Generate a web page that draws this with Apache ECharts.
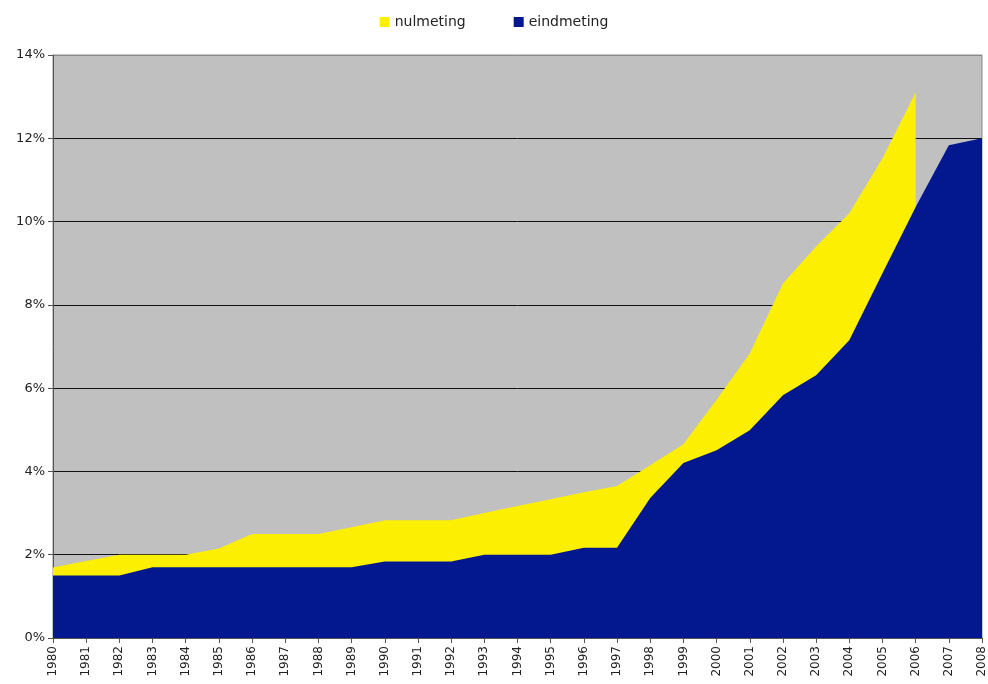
<!DOCTYPE html>
<html>
<head>
<meta charset="utf-8">
<script src="https://cdn.jsdelivr.net/npm/echarts@6/dist/echarts.min.js"></script>
<style>
  html, body { margin: 0; padding: 0; background: #fff; }
  #chart { width: 988px; height: 684px; }
</style>
</head>
<body>
<div id="chart"></div>
<script>
// jaren
var years = ["1980","1981","1982","1983","1984","1985","1986","1987","1988","1989",
  "1990","1991","1992","1993","1994","1995","1996","1997","1998","1999",
  "2000","2001","2002","2003","2004","2005","2006","2007","2008"];

// nulmeting (%), geen waarden na 2006
var nulmeting = [1.69, 1.85, 2.0, 2.0, 2.0, 2.15, 2.5, 2.5, 2.5, 2.66,
  2.83, 2.83, 2.83, 3.0, 3.17, 3.33, 3.5, 3.65, 4.15, 4.65,
  5.72, 6.83, 8.51, 9.4, 10.2, 11.52, 13.1, null, null];

// eindmeting (%)
var eindmeting = [1.5, 1.5, 1.5, 1.7, 1.7, 1.7, 1.7, 1.7, 1.7, 1.7,
  1.84, 1.84, 1.84, 2.0, 2.0, 2.0, 2.17, 2.17, 3.36, 4.2,
  4.51, 4.99, 5.83, 6.31, 7.15, 8.76, 10.35, 11.83, 12.0];

var yTicks = [0, 2, 4, 6, 8, 10, 12, 14];

var myChart = echarts.init(document.getElementById("chart"));

// zwarte rasterlijnen, bovenste lijn valt samen met de grijze rand
var gridColors = yTicks.map(function (t, i) {
  return i === yTicks.length - 1 ? "#8c8c8c" : "#111111";
});

var option = {
  animation: false,
  backgroundColor: "#ffffff",
  textStyle: { fontFamily: "DejaVu Sans" },
  legend: {
    top: 10,
    left: "center",
    icon: "rect",
    itemWidth: 10,
    itemHeight: 10,
    itemGap: 48,
    textStyle: { fontSize: 14, color: "#222", fontFamily: "DejaVu Sans" },
    data: ["nulmeting", "eindmeting"]
  },
  grid: {
    left: 53,
    right: 6,
    top: 55,
    bottom: 46,
    show: true,
    backgroundColor: "#c0c0c0",
    borderWidth: 1,
    borderColor: "#8c8c8c"
  },
  xAxis: {
    type: "category",
    data: years,
    boundaryGap: false,
    axisLine: { lineStyle: { color: "#555", width: 1 } },
    axisTick: { show: true, interval: 0, length: 5, lineStyle: { color: "#555" } },
    axisLabel: {
      interval: 0,
      rotate: 90,
      fontSize: 12,
      color: "#222",
      margin: 8
    },
    splitLine: { show: false }
  },
  yAxis: {
    type: "value",
    min: yTicks[0],
    max: yTicks[yTicks.length - 1],
    interval: 2,
    axisLine: { show: true, lineStyle: { color: "#555", width: 1 } },
    axisTick: { show: true, length: 5, lineStyle: { color: "#555" } },
    axisLabel: {
      formatter: "{value}%",
      fontSize: 13,
      color: "#222",
      margin: 8
    },
    splitLine: { show: true, lineStyle: { color: gridColors, width: 1 } }
  },
  series: [
    {
      name: "nulmeting",
      type: "line",
      data: nulmeting,
      showSymbol: false,
      symbol: "none",
      color: "#fcf000",
      lineStyle: { width: 0 },
      areaStyle: { color: "#fcf000", opacity: 1 },
      z: 2
    },
    {
      name: "eindmeting",
      type: "line",
      data: eindmeting,
      showSymbol: false,
      symbol: "none",
      color: "#03178f",
      lineStyle: { width: 0 },
      areaStyle: { color: "#03178f", opacity: 1 },
      z: 3
    }
  ]
};

myChart.setOption(option);
</script>
</body>
</html>
